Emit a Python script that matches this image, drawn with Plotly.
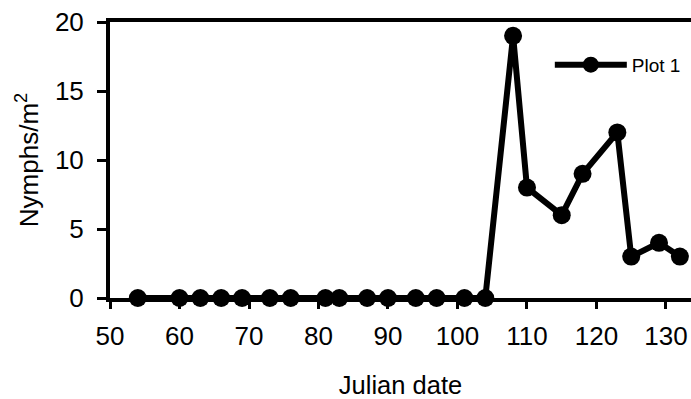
import plotly.graph_objects as go

julian_date = [54, 60, 63, 66, 69, 73, 76, 81, 83, 87, 90, 94, 97, 101, 104,
               108, 110, 115, 118, 123, 125, 129, 132]
nymphs = [0, 0, 0, 0, 0, 0, 0, 0, 0, 0, 0, 0, 0, 0, 0,
          19, 8, 6, 9, 12, 3, 4, 3]
x_ticks = [50, 60, 70, 80, 90, 100, 110, 120, 130]
y_ticks = [0, 5, 10, 15, 20]

FONT = "Liberation Sans, Arial, sans-serif"

fig = go.Figure()
fig.add_trace(go.Scatter(
    x=julian_date, y=nymphs, mode="lines+markers", name="Plot 1",
    line=dict(color="black", width=6),
    marker=dict(color="black", size=18),
    cliponaxis=False,
))

fig.update_layout(
    width=691, height=399,
    margin=dict(l=110, r=0, t=22, b=101),
    paper_bgcolor="white", plot_bgcolor="white",
    font=dict(family=FONT, size=26, color="black"),
    showlegend=True,
    legend=dict(x=0.757, y=0.845, xanchor="left", yanchor="middle",
                bgcolor="rgba(0,0,0,0)", font=dict(size=19),
                itemwidth=72),
    xaxis=dict(
        range=[50, 133.6], tickvals=x_ticks, ticks="outside", ticklen=7,
        tickwidth=3, tickcolor="black", showline=True, linewidth=4,
        linecolor="black", mirror=True, showgrid=False, zeroline=False,
        title=dict(text="Julian date", standoff=27, font=dict(size=25.5)),
        tickfont=dict(size=26), ticklabelstandoff=5,
    ),
    yaxis=dict(
        range=[0, 20], tickvals=y_ticks, ticks="outside", ticklen=9,
        tickwidth=3, tickcolor="black", showline=True, linewidth=4,
        linecolor="black", showgrid=False, zeroline=False,
        title=dict(text="Nymphs/m<sup>2</sup>", standoff=10, font=dict(size=26)),
        tickfont=dict(size=26), ticklabelstandoff=8,
    ),
)

fig.write_html("out.html")
